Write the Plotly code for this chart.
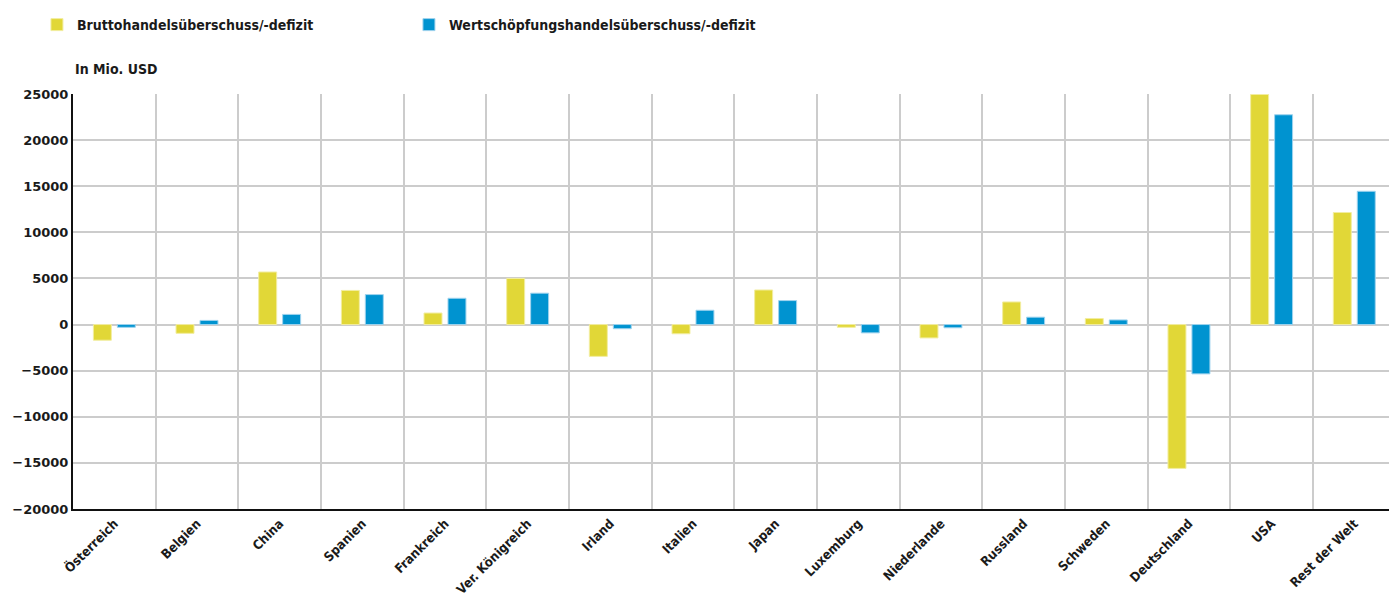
import plotly.graph_objects as go

categories = ["Österreich", "Belgien", "China", "Spanien", "Frankreich", "Ver. Königreich",
              "Irland", "Italien", "Japan", "Luxemburg", "Niederlande", "Russland",
              "Schweden", "Deutschland", "USA", "Rest der Welt"]
brutto = [-1700, -950, 5700, 3700, 1250, 5000, -3450, -1000, 3750, -300, -1450, 2450,
          650, -15600, 24950, 12150]
wertschoepfung = [-300, 450, 1100, 3250, 2850, 3400, -450, 1550, 2600, -900, -350, 800,
                  500, -5350, 22750, 14450]
y_ticks = [-20000, -15000, -10000, -5000, 0, 5000, 10000, 15000, 20000, 25000]

YELLOW = "#E1D737"
BLUE = "#0093D0"
TXT = "#1a1a1a"
COND = "DejaVu Sans Condensed, sans-serif"

fig = go.Figure()
fig.add_trace(go.Bar(name="<b>Bruttohandelsüberschuss/-defizit</b>", x=categories, y=brutto,
                     marker=dict(color=YELLOW, line=dict(color="#F2EDA0", width=1))))
fig.add_trace(go.Bar(name="<b>Wertschöpfungshandelsüberschuss/-defizit</b>", x=categories,
                     y=wertschoepfung,
                     marker=dict(color=BLUE, line=dict(color="#9FD3EE", width=1))))

fig.update_layout(
    width=1389, height=601,
    margin=dict(l=73, r=0, t=94, b=92, autoexpand=False),
    paper_bgcolor="white", plot_bgcolor="white",
    barmode="group", bargap=0.42, bargroupgap=0.25,
    font=dict(family=COND, size=14, color=TXT),
    showlegend=True,
    legend=dict(orientation="h", xref="container", x=0.0266, xanchor="left",
                yref="container", y=0.985, yanchor="top",
                entrywidth=327, entrywidthmode="pixels",
                font=dict(family=COND, size=14, color=TXT),
                bgcolor="rgba(0,0,0,0)"),
    annotations=[dict(text="<b>In Mio. USD</b>", xref="paper", yref="paper",
                      x=0, y=1.0, xanchor="left", yanchor="bottom", yshift=15,
                      showarrow=False, font=dict(family=COND, size=14, color=TXT))],
)

fig.update_xaxes(
    type="category", range=[-0.5, 15.42], tickson="boundaries", automargin=False,
    showgrid=True, gridcolor="#cccccc", gridwidth=1.5,
    showline=True, linecolor="#111111", linewidth=2,
    ticks="", tickangle=-45,
    tickfont=dict(family=COND, size=13, color=TXT),
    tickvals=categories, ticktext=["<b>" + c + "</b>" for c in categories],
)
fig.update_yaxes(
    range=[-20000, 25000], tickvals=y_ticks, automargin=False,
    ticktext=["<b>" + ("\u2212" + str(abs(v)) if v < 0 else str(v)) + "</b>" for v in y_ticks],
    showgrid=True, gridcolor="#cccccc", gridwidth=1.5,
    zeroline=True, zerolinecolor="#cccccc", zerolinewidth=1.5,
    showline=True, linecolor="#111111", linewidth=2,
    ticks="", tickfont=dict(family="DejaVu Sans, Verdana, sans-serif", size=13, color=TXT),
)

fig.write_html("out.html")
